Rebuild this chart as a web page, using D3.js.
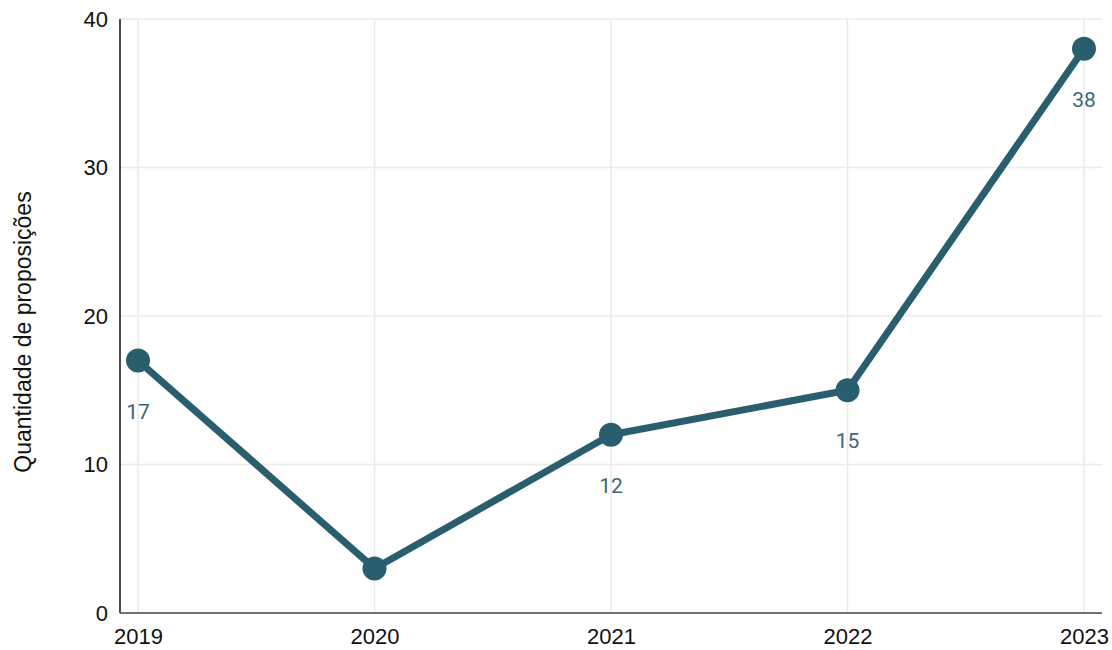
<!DOCTYPE html>
<html><head><meta charset="utf-8">
<script src="https://cdn.jsdelivr.net/npm/d3@7"></script>
<style>body{margin:0;background:#fff}svg{display:block}</style>
</head><body>
<svg id="c" width="1112" height="650"></svg>
<script>
const years = ["2019","2020","2021","2022","2023"];
const values = [17, 3, 12, 15, 38];
const yTicks = [0, 10, 20, 30, 40];
const hiddenLabels = ["2020"]; // label for 2020 is not shown in the reference

const svg = d3.select("#c");
const mLeft = 120, mRight = 1102, mTop = 19, mBottom = 613;
const x = d3.scalePoint().domain(years).range([138, 1084]);
const y = d3.scaleLinear().domain([0, 40]).range([mBottom, mTop]);
const color = "#285e6e";
const axisFont = "Liberation Sans, Arial, sans-serif";

// grid
svg.append("g").selectAll("line").data(yTicks.filter(d => d > 0)).join("line")
  .attr("x1", mLeft).attr("x2", mRight).attr("y1", d => y(d)).attr("y2", d => y(d))
  .attr("stroke", "#ebebeb").attr("stroke-width", 1.5);
svg.append("g").selectAll("line").data(years).join("line")
  .attr("x1", d => x(d)).attr("x2", d => x(d)).attr("y1", mTop).attr("y2", mBottom)
  .attr("stroke", "#ebebeb").attr("stroke-width", 1.5);

// axes
const yAxis = svg.append("g").attr("transform", `translate(${mLeft},0)`)
  .call(d3.axisLeft(y).tickValues(yTicks).tickSize(0).tickPadding(12));
yAxis.select(".domain").attr("stroke", "#111").attr("stroke-width", 1.5).attr("d", `M0,${mTop}V${mBottom}`);
yAxis.selectAll("text").attr("font-family", axisFont).attr("font-size", 22).attr("fill", "#111");

const xAxis = svg.append("g").attr("transform", `translate(0,${mBottom})`)
  .call(d3.axisBottom(x).tickSize(0).tickPadding(15));
xAxis.select(".domain").attr("stroke", "#444").attr("stroke-width", 1.5).attr("d", `M${mLeft},0H${mRight}`);
xAxis.selectAll("text").attr("font-family", axisFont).attr("font-size", 22).attr("fill", "#111");

// y title
svg.append("text").attr("transform", `translate(31,332) rotate(-90)`)
  .attr("text-anchor", "middle").attr("font-family", axisFont)
  .attr("font-size", 23).attr("fill", "#111").text("Quantidade de proposições");

// line
const line = d3.line().x((d, i) => x(years[i])).y(d => y(d));
svg.append("path").datum(values).attr("d", line).attr("fill", "none")
  .attr("stroke", color).attr("stroke-width", 7).attr("stroke-linejoin", "round");
svg.append("g").selectAll("circle").data(values).join("circle")
  .attr("cx", (d, i) => x(years[i])).attr("cy", d => y(d)).attr("r", 12).attr("fill", color);

// labels
const labelData = values.map((v, i) => ({year: years[i], v})).filter(d => !hiddenLabels.includes(d.year));
svg.append("g").selectAll("text").data(labelData).join("text")
  .attr("x", d => x(d.year)).attr("y", d => y(d.v) + 58)
  .attr("text-anchor", "middle").attr("font-family", "Roboto, sans-serif")
  .attr("font-size", 21).attr("fill", "#3a6878").text(d => d.v);
</script>
</body></html>
